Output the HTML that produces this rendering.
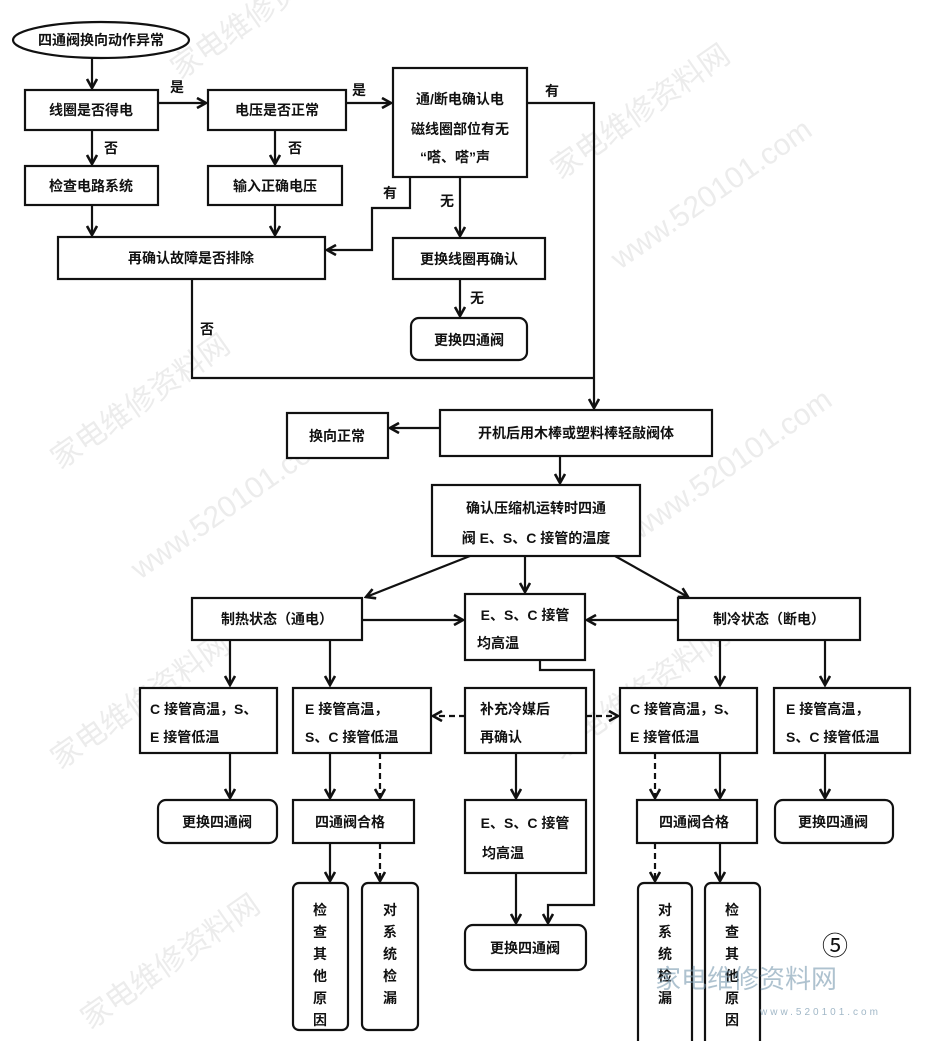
<!DOCTYPE html>
<html><head><meta charset="utf-8"><style>
html,body{margin:0;padding:0;background:#fff;}
svg{display:block;}
text{font-family:"Liberation Sans","Noto Sans CJK SC",sans-serif;font-size:14px;font-weight:bold;fill:#111;}
.b{fill:#fff;stroke:#111;stroke-width:2.2;}
.l{fill:none;stroke:#111;stroke-width:2.2;}
.d{fill:none;stroke:#111;stroke-width:2.2;stroke-dasharray:6,4;}
.wm{font-size:30px;fill:#ececec;font-weight:normal;}
</style></head><body>
<svg width="927" height="1041" viewBox="0 0 927 1041" xmlns="http://www.w3.org/2000/svg">
<defs>
<marker id="a" markerWidth="12" markerHeight="12" refX="10" refY="6" orient="auto" markerUnits="userSpaceOnUse">
<polyline points="1,1 10,6 1,11" fill="none" stroke="#111" stroke-width="2.6"/>
</marker>
</defs>
<g>
<text class="wm" x="180" y="80" transform="rotate(-35 180 80)">家电维修资料网</text>
<text class="wm" x="560" y="180" transform="rotate(-35 560 180)">家电维修资料网</text>
<text class="wm" x="620" y="270" transform="rotate(-35 620 270)">www.520101.com</text>
<text class="wm" x="60" y="470" transform="rotate(-35 60 470)">家电维修资料网</text>
<text class="wm" x="140" y="580" transform="rotate(-35 140 580)">www.520101.com</text>
<text class="wm" x="640" y="540" transform="rotate(-35 640 540)">www.520101.com</text>
<text class="wm" x="60" y="770" transform="rotate(-35 60 770)">家电维修资料网</text>
<text class="wm" x="560" y="760" transform="rotate(-35 560 760)">家电维修资料网</text>
<text class="wm" x="90" y="1030" transform="rotate(-35 90 1030)">家电维修资料网</text>
</g>

<ellipse class="b" cx="101" cy="40" rx="88" ry="18"/>
<text x="101" y="45" text-anchor="middle">四通阀换向动作异常</text>
<line class="l" x1="92" y1="58" x2="92" y2="88" marker-end="url(#a)"/>

<rect class="b" x="25" y="90" width="133" height="40"/>
<text x="91" y="115" text-anchor="middle">线圈是否得电</text>
<rect class="b" x="208" y="90" width="138" height="40"/>
<text x="277" y="115" text-anchor="middle">电压是否正常</text>
<rect class="b" x="393" y="68" width="134" height="109"/>
<text x="460" y="104" text-anchor="middle">通/断电确认电</text>
<text x="460" y="134" text-anchor="middle">磁线圈部位有无</text>
<text x="455" y="162" text-anchor="middle">“嗒、嗒”声</text>

<line class="l" x1="158" y1="103" x2="206" y2="103" marker-end="url(#a)"/>
<text x="170" y="92">是</text>
<line class="l" x1="346" y1="103" x2="391" y2="103" marker-end="url(#a)"/>
<text x="352" y="95">是</text>
<polyline class="l" points="527,103 594,103 594,408" marker-end="url(#a)"/>
<text x="545" y="96">有</text>

<line class="l" x1="92" y1="130" x2="92" y2="164" marker-end="url(#a)"/>
<text x="104" y="153">否</text>
<line class="l" x1="275" y1="130" x2="275" y2="164" marker-end="url(#a)"/>
<text x="288" y="153">否</text>

<rect class="b" x="25" y="166" width="133" height="39"/>
<text x="91" y="191" text-anchor="middle">检查电路系统</text>
<rect class="b" x="208" y="166" width="134" height="39"/>
<text x="275" y="191" text-anchor="middle">输入正确电压</text>

<line class="l" x1="92" y1="205" x2="92" y2="235" marker-end="url(#a)"/>
<line class="l" x1="275" y1="205" x2="275" y2="235" marker-end="url(#a)"/>
<polyline class="l" points="410,177 410,208 372,208 372,250 327,250" marker-end="url(#a)"/>
<text x="383" y="198">有</text>

<rect class="b" x="58" y="237" width="267" height="42"/>
<text x="191" y="263" text-anchor="middle">再确认故障是否排除</text>
<polyline class="l" points="192,279 192,378 594,378"/>
<text x="200" y="334">否</text>

<line class="l" x1="460" y1="177" x2="460" y2="236" marker-end="url(#a)"/>
<text x="440" y="206">无</text>
<rect class="b" x="393" y="238" width="152" height="41"/>
<text x="469" y="264" text-anchor="middle">更换线圈再确认</text>
<line class="l" x1="460" y1="279" x2="460" y2="316" marker-end="url(#a)"/>
<text x="470" y="303">无</text>
<rect class="b" x="411" y="318" width="116" height="42" rx="8"/>
<text x="469" y="345" text-anchor="middle">更换四通阀</text>

<rect class="b" x="440" y="410" width="272" height="46"/>
<text x="576" y="438" text-anchor="middle">开机后用木棒或塑料棒轻敲阀体</text>
<rect class="b" x="287" y="413" width="101" height="45"/>
<text x="337" y="441" text-anchor="middle">换向正常</text>
<line class="l" x1="440" y1="428" x2="390" y2="428" marker-end="url(#a)"/>
<line class="l" x1="560" y1="456" x2="560" y2="483" marker-end="url(#a)"/>

<rect class="b" x="432" y="485" width="208" height="71"/>
<text x="536" y="513" text-anchor="middle">确认压缩机运转时四通</text>
<text x="536" y="543" text-anchor="middle">阀 E、S、C 接管的温度</text>

<line class="l" x1="470" y1="556" x2="366" y2="597" marker-end="url(#a)"/>
<line class="l" x1="525" y1="556" x2="525" y2="592" marker-end="url(#a)"/>
<line class="l" x1="615" y1="556" x2="688" y2="597" marker-end="url(#a)"/>

<rect class="b" x="192" y="598" width="170" height="42"/>
<text x="277" y="624" text-anchor="middle">制热状态（通电）</text>
<rect class="b" x="465" y="594" width="120" height="66"/>
<text x="525" y="620" text-anchor="middle">E、S、C 接管</text>
<text x="498" y="648" text-anchor="middle">均高温</text>
<rect class="b" x="678" y="598" width="182" height="42"/>
<text x="769" y="624" text-anchor="middle">制冷状态（断电）</text>
<line class="l" x1="362" y1="620" x2="463" y2="620" marker-end="url(#a)"/>
<line class="l" x1="678" y1="620" x2="587" y2="620" marker-end="url(#a)"/>
<polyline class="l" points="540,660 540,670 594,670 594,905 548,905 548,923" marker-end="url(#a)"/>

<line class="l" x1="230" y1="640" x2="230" y2="685" marker-end="url(#a)"/>
<line class="l" x1="330" y1="640" x2="330" y2="685" marker-end="url(#a)"/>
<line class="l" x1="720" y1="640" x2="720" y2="685" marker-end="url(#a)"/>
<line class="l" x1="825" y1="640" x2="825" y2="685" marker-end="url(#a)"/>

<rect class="b" x="140" y="688" width="137" height="65"/>
<text x="150" y="714">C 接管高温，S、</text>
<text x="150" y="742">E 接管低温</text>
<rect class="b" x="293" y="688" width="138" height="65"/>
<text x="305" y="714">E 接管高温，</text>
<text x="305" y="742">S、C 接管低温</text>
<rect class="b" x="465" y="688" width="121" height="65"/>
<text x="480" y="714">补充冷媒后</text>
<text x="480" y="742">再确认</text>
<rect class="b" x="620" y="688" width="137" height="65"/>
<text x="630" y="714">C 接管高温，S、</text>
<text x="630" y="742">E 接管低温</text>
<rect class="b" x="774" y="688" width="136" height="65"/>
<text x="786" y="714">E 接管高温，</text>
<text x="786" y="742">S、C 接管低温</text>

<line class="d" x1="465" y1="716" x2="433" y2="716" marker-end="url(#a)"/>
<line class="d" x1="586" y1="716" x2="618" y2="716" marker-end="url(#a)"/>

<line class="l" x1="230" y1="753" x2="230" y2="798" marker-end="url(#a)"/>
<line class="l" x1="330" y1="753" x2="330" y2="798" marker-end="url(#a)"/>
<line class="d" x1="380" y1="753" x2="380" y2="798" marker-end="url(#a)"/>
<line class="l" x1="516" y1="753" x2="516" y2="798" marker-end="url(#a)"/>
<line class="d" x1="655" y1="753" x2="655" y2="798" marker-end="url(#a)"/>
<line class="l" x1="720" y1="753" x2="720" y2="798" marker-end="url(#a)"/>
<line class="l" x1="825" y1="753" x2="825" y2="798" marker-end="url(#a)"/>

<rect class="b" x="158" y="800" width="119" height="43" rx="8"/>
<text x="217" y="827" text-anchor="middle">更换四通阀</text>
<rect class="b" x="293" y="800" width="121" height="43"/>
<text x="350" y="827" text-anchor="middle">四通阀合格</text>
<rect class="b" x="465" y="800" width="121" height="73"/>
<text x="525" y="828" text-anchor="middle">E、S、C 接管</text>
<text x="503" y="858" text-anchor="middle">均高温</text>
<rect class="b" x="637" y="800" width="120" height="43"/>
<text x="694" y="827" text-anchor="middle">四通阀合格</text>
<rect class="b" x="775" y="800" width="118" height="43" rx="8"/>
<text x="833" y="827" text-anchor="middle">更换四通阀</text>

<line class="l" x1="330" y1="843" x2="330" y2="881" marker-end="url(#a)"/>
<line class="d" x1="380" y1="843" x2="380" y2="881" marker-end="url(#a)"/>
<line class="l" x1="516" y1="873" x2="516" y2="923" marker-end="url(#a)"/>
<line class="d" x1="655" y1="843" x2="655" y2="881" marker-end="url(#a)"/>
<line class="l" x1="720" y1="843" x2="720" y2="881" marker-end="url(#a)"/>

<rect class="b" x="293" y="883" width="55" height="147" rx="6"/>
<g text-anchor="middle">
<text x="320" y="915">检</text><text x="320" y="937">查</text><text x="320" y="959">其</text><text x="320" y="981">他</text><text x="320" y="1003">原</text><text x="320" y="1025">因</text>
</g>
<rect class="b" x="362" y="883" width="56" height="147" rx="6"/>
<g text-anchor="middle">
<text x="390" y="915">对</text><text x="390" y="937">系</text><text x="390" y="959">统</text><text x="390" y="981">检</text><text x="390" y="1003">漏</text>
</g>
<rect class="b" x="465" y="925" width="121" height="45" rx="8"/>
<text x="525" y="953" text-anchor="middle">更换四通阀</text>
<rect class="b" x="638" y="883" width="54" height="170" rx="6"/>
<g text-anchor="middle">
<text x="665" y="915">对</text><text x="665" y="937">系</text><text x="665" y="959">统</text><text x="665" y="981">检</text><text x="665" y="1003">漏</text>
</g>
<rect class="b" x="705" y="883" width="55" height="170" rx="6"/>
<g text-anchor="middle">
<text x="732" y="915">检</text><text x="732" y="937">查</text><text x="732" y="959">其</text><text x="732" y="981">他</text><text x="732" y="1003">原</text><text x="732" y="1025">因</text>
</g>

<text x="822" y="955" style="font-size:26px;font-weight:normal">⑤</text>
<text x="655" y="988" style="font-size:26px;font-weight:normal;fill:#7a9ab0;opacity:0.6">家电维修资料网</text>
<text x="760" y="1015" style="font-size:10px;font-weight:normal;fill:#7a9ab0;letter-spacing:3px;opacity:0.7">www.520101.com</text>
</svg>
</body></html>
